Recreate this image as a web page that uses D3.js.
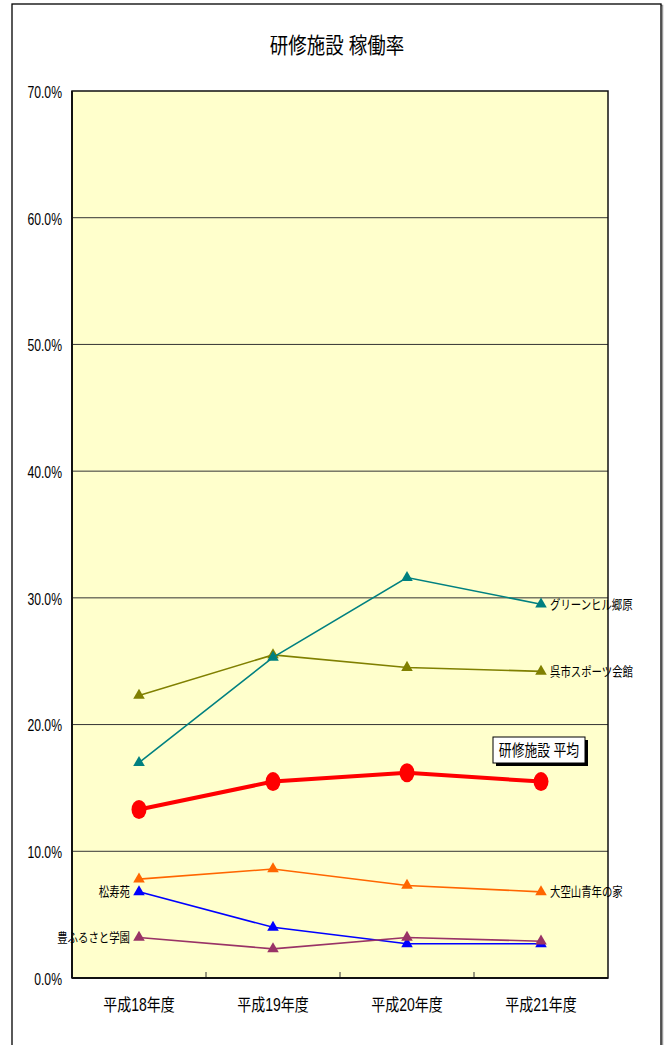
<!DOCTYPE html>
<html><head><meta charset="utf-8">
<script src="https://cdn.jsdelivr.net/npm/d3@7"></script>
<style>
html,body{margin:0;padding:0;background:#fff;}
text{font-family:"Liberation Sans","Noto Sans CJK JP",sans-serif;fill:#000;font-weight:400;}
</style></head>
<body><svg id="c" width="667" height="1045"></svg>
<script>
const title = "研修施設 稼働率";
const categories = ["平成18年度","平成19年度","平成20年度","平成21年度"];
const yTicks = [0,10,20,30,40,50,60,70];
const greenHill = [17.0,25.3,31.6,29.5];
const kureSports = [22.3,25.5,24.5,24.2];
const average = [13.3,15.5,16.2,15.5];
const oozorayama = [7.8,8.6,7.3,6.8];
const shojuen = [6.8,4.0,2.7,2.7];
const yutakaFurusato = [3.2,2.3,3.2,2.9];

const seriesList = [
  {name:"グリーンヒル郷原", values:greenHill, color:"#008080", label:"right"},
  {name:"呉市スポーツ会館", values:kureSports, color:"#808000", label:"right"},
  {name:"大空山青年の家", values:oozorayama, color:"#FF6600", label:"right"},
  {name:"豊ふるさと学園", values:yutakaFurusato, color:"#993366", label:"left"},
  {name:"松寿苑", values:shojuen, color:"#0000FF", label:"left"}
];
const avgName = "研修施設 平均";

const svg = d3.select("#c");
const L=72, T=91, R=608, B=978;

// outer frame
svg.append("rect").attr("x",13.5).attr("y",5.5).attr("width",649).attr("height",1100)
  .attr("fill","none").attr("stroke","#999").attr("stroke-width",1.5);
svg.append("rect").attr("x",12).attr("y",4).attr("width",649).attr("height",1100)
  .attr("fill","#fff").attr("stroke","#000").attr("stroke-width",1.3);

function txt(x,y,s,size,sx,anchor){
  return svg.append("text").attr("transform",`translate(${x},${y}) scale(${sx},1)`)
    .attr("text-anchor",anchor||"middle").attr("dy","0.35em")
    .style("font-size",size+"px").text(s);
}

txt(337,45,title,22,0.84,"middle");

const x = d3.scaleBand().domain(categories).range([L,R]);
const y = d3.scaleLinear().domain([0,70]).range([B,T]);
const cx = c => x(c)+x.bandwidth()/2;

svg.append("rect").attr("x",L).attr("y",T).attr("width",R-L).attr("height",B-T).attr("fill","#FFFFCC");

// gridlines
svg.append("g").selectAll("line").data(yTicks.filter(d=>d>0&&d<70)).join("line")
  .attr("x1",L).attr("x2",R).attr("y1",d=>y(d)).attr("y2",d=>y(d))
  .attr("stroke","#333").attr("stroke-width",1);

// y labels
yTicks.forEach(t=>txt(62,y(t)+1,t.toFixed(1)+"%",16.5,0.74,"end"));

// x ticks (between categories)
const bounds = categories.slice(1).map(c=>x(c));
svg.append("g").selectAll("line").data(bounds).join("line")
  .attr("x1",d=>d).attr("x2",d=>d).attr("y1",B).attr("y2",B-6)
  .attr("stroke","#333").attr("stroke-width",1);

// plot border
svg.append("rect").attr("x",L).attr("y",T).attr("width",R-L).attr("height",B-T)
  .attr("fill","none").attr("stroke","#111").attr("stroke-width",1.5);
svg.append("line").attr("x1",L).attr("x2",L).attr("y1",T).attr("y2",B).attr("stroke","#111").attr("stroke-width",2);
svg.append("line").attr("x1",L).attr("x2",R).attr("y1",B).attr("y2",B).attr("stroke","#111").attr("stroke-width",2);

// x labels
categories.forEach(c=>txt(cx(c),1005,c,17.5,0.8,"middle"));

const line = d3.line().x((d,i)=>cx(categories[i])).y(d=>y(d));
const tri = d3.symbol().type(d3.symbolTriangle).size(58);

const drawOrder = [seriesList[4], seriesList[3], seriesList[2], seriesList[1], seriesList[0]];
drawOrder.forEach(s=>{
  svg.append("path").attr("d",line(s.values)).attr("fill","none")
    .attr("stroke",s.color).attr("stroke-width",1.6);
  svg.append("g").selectAll("path").data(s.values).join("path")
    .attr("d",tri).attr("fill",s.color)
    .attr("transform",(d,i)=>`translate(${cx(categories[i])},${y(d)})`);
});

// average
svg.append("path").attr("d",line(average)).attr("fill","none")
  .attr("stroke","#FF0000").attr("stroke-width",4);
svg.append("g").selectAll("ellipse").data(average).join("ellipse")
  .attr("cx",(d,i)=>cx(categories[i])).attr("cy",d=>y(d)).attr("rx",7.5).attr("ry",9.5)
  .attr("fill","#FF0000");

// series labels
seriesList.forEach(s=>{
  if(s.label==="right"){
    const i=s.values.length-1;
    txt(cx(categories[i])+9, y(s.values[i]), s.name, 13, 0.8, "start");
  } else {
    txt(cx(categories[0])-9, y(s.values[0]), s.name, 13, 0.8, "end");
  }
});

// average legend box
svg.append("rect").attr("x",496).attr("y",740).attr("width",92).attr("height",26).attr("fill","#000");
svg.append("rect").attr("x",493).attr("y",737).attr("width",92).attr("height",26)
  .attr("fill","#fff").attr("stroke","#000").attr("stroke-width",1);
txt(539,750,avgName,16,0.8,"middle");
</script></body></html>
